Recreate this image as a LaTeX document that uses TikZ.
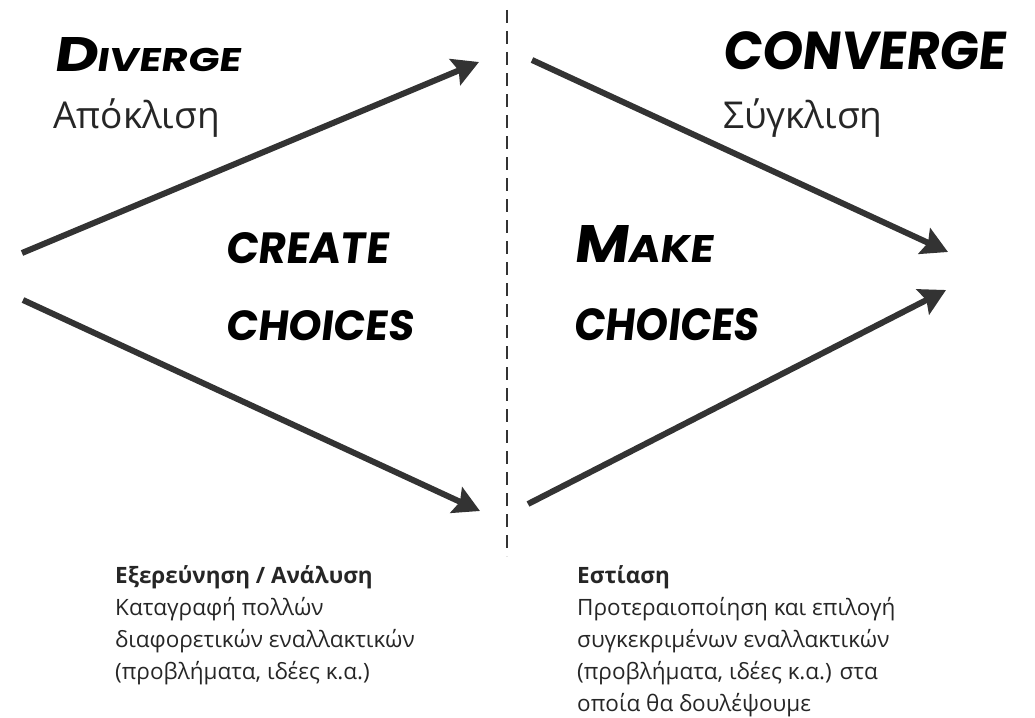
\documentclass[tikz,border=0pt]{standalone}
\usepackage{fontspec}
\usepackage{graphicx}
\usetikzlibrary{arrows.meta}
\setmainfont{Open Sans}
\newfontfamily\hand{Poppins}[FakeSlant=0.12]
\definecolor{ink}{HTML}{333333}
\definecolor{txt}{HTML}{262626}
\tikzset{
  bigarrow/.style={draw=ink, line width=6pt, -{Stealth[length=26pt,width=28pt,inset=4pt]}},
  divider/.style={draw=ink, line width=2.5pt, dash pattern=on 13pt off 8pt},
  handtxt/.style={anchor=base west, inner sep=0pt, text=black, font=\hand\bfseries},
  greek/.style={anchor=base west, inner sep=0pt, text=txt, font=\fontsize{37}{42}\selectfont},
  body/.style={anchor=north west, inner sep=0pt, text=txt, align=left, font=\fontsize{22.5}{32}\selectfont}
}
\begin{document}
\begin{tikzpicture}[x=1pt,y=-1pt]
\useasboundingbox (0,0) rectangle (1035,717);
% arrow end points
\coordinate (d1s) at (22,253);
\coordinate (d1e) at (479,62);
\coordinate (d2s) at (23,300);
\coordinate (d2e) at (480,511);
\coordinate (c1s) at (532,60);
\coordinate (c1e) at (948,252);
\coordinate (c2s) at (528,504);
\coordinate (c2e) at (946,290);
\coordinate (dt) at (507,10);
\coordinate (db) at (507,556);
% arrows
\draw[bigarrow] (d1s) -- (d1e);
\draw[bigarrow] (d2s) -- (d2e);
\draw[bigarrow] (c1s) -- (c1e);
\draw[bigarrow] (c2s) -- (c2e);
\draw[divider] (dt) -- (db);
% headings
\node[handtxt] (diverge) at (53,71) {\resizebox{187pt}{34pt}{\fontsize{34}{34}\selectfont D\fontsize{23}{23}\selectfont IVERGE}};
\node[greek] (apok) at (53,128) {Απόκλιση};
\node[handtxt] (converge) at (722,70) {\resizebox{283pt}{38pt}{\fontsize{38}{38}\selectfont CONVERGE}};
\node[greek] (sygk) at (723,128) {Σύγκλιση};
\node[handtxt] (create) at (225,263) {\resizebox{163pt}{31pt}{\fontsize{31}{31}\selectfont CREATE}};
\node[handtxt] (choicesl) at (225,340) {\resizebox{188pt}{30pt}{\fontsize{30}{30}\selectfont CHOICES}};
\node[handtxt] (make) at (573,262) {\resizebox{140pt}{37pt}{\fontsize{37}{37}\selectfont M\fontsize{27}{27}\selectfont AKE}};
\node[handtxt] (choicesr) at (573,340) {\resizebox{185pt}{32pt}{\fontsize{32}{32}\selectfont CHOICES}};
% bottom texts
\node[body] (expl) at (115,565) {\textbf{Εξερεύνηση / Ανάλυση}\\Καταγραφή πολλών\\διαφορετικών εναλλακτικών\\(προβλήματα, ιδέες κ.α.)};
\node[body] (focus) at (577,565) {\textbf{Εστίαση}\\Προτεραιοποίηση και επιλογή\\συγκεκριμένων εναλλακτικών\\(προβλήματα, ιδέες κ.α.) στα\\οποία θα δουλέψουμε};
\end{tikzpicture}
\end{document}
